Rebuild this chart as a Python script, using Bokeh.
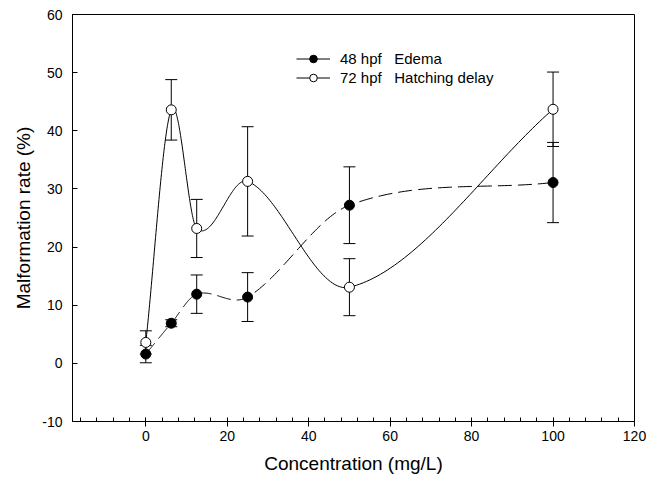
import numpy as np
from bokeh.plotting import figure
from bokeh.models import (ColumnDataSource, Whisker, TeeHead, SingleIntervalTicker,
                          Range1d, Legend, LegendItem)
from bokeh.embed import file_html
from bokeh.resources import INLINE

# ---- data ----
conc = [0, 6.25, 12.5, 25, 50, 100]
edema_48 = [1.6, 6.9, 11.9, 11.4, 27.2, 31.1]
edema_48_err = [1.5, 0.6, 3.3, 4.2, 6.6, 6.9]
hatch_72 = [3.6, 43.6, 23.2, 31.3, 13.1, 43.7]
hatch_72_err = [2.0, 5.2, 5.0, 9.4, 4.9, 6.4]

y_ticks = [-10, 0, 10, 20, 30, 40, 50, 60]
legend_labels = ["48 hpf\u00a0\u00a0\u00a0Edema", "72 hpf\u00a0\u00a0\u00a0Hatching delay"]

FONT = "Liberation Sans"


def smooth_curve(xs, ys, n=60):
    """Smooth display curve through the data points (cubic Hermite,
    finite-difference tangents, like a Catmull-Rom spline)."""
    xs = np.asarray(xs, float)
    ys = np.asarray(ys, float)
    k = len(xs)
    m = np.empty(k)
    m[0] = (ys[1] - ys[0]) / (xs[1] - xs[0])
    m[-1] = (ys[-1] - ys[-2]) / (xs[-1] - xs[-2])
    for i in range(1, k - 1):
        m[i] = (ys[i + 1] - ys[i - 1]) / (xs[i + 1] - xs[i - 1])
    out_x, out_y = [], []
    for i in range(k - 1):
        h = xs[i + 1] - xs[i]
        t = np.linspace(0, 1, n, endpoint=(i == k - 2))
        h00 = 2 * t**3 - 3 * t**2 + 1
        h10 = t**3 - 2 * t**2 + t
        h01 = -2 * t**3 + 3 * t**2
        h11 = t**3 - t**2
        out_x.append(xs[i] + t * h)
        out_y.append(h00 * ys[i] + h10 * h * m[i] + h01 * ys[i + 1] + h11 * h * m[i + 1])
    return np.concatenate(out_x), np.concatenate(out_y)


p = figure(width=648, height=480, output_backend="svg", toolbar_location=None,
           x_range=Range1d(-18, 120), y_range=Range1d(-10, 60),
           min_border_left=72, min_border_right=14, min_border_top=14,
           min_border_bottom=59)
p.grid.visible = False
p.outline_line_color = "black"
p.outline_line_width = 1
p.background_fill_color = "white"
p.border_fill_color = "white"

# x axis
p.xaxis.ticker = SingleIntervalTicker(interval=20, num_minor_ticks=5)
p.xaxis.major_tick_out = 5
p.xaxis.major_tick_in = 0
p.xaxis.minor_tick_in = 4
p.xaxis.minor_tick_out = 0
p.xaxis.major_label_standoff = 4
p.xaxis.axis_label = "Concentration (mg/L)"
p.xaxis.axis_label_standoff = 9

# y axis
p.yaxis.ticker = y_ticks
p.yaxis.major_label_overrides = {-10: "-10"}
p.yaxis.major_tick_in = 5
p.yaxis.major_tick_out = 0
p.yaxis.minor_tick_line_color = None
p.yaxis.major_label_standoff = 10
p.yaxis.axis_label = "Malformation rate (%)"
p.yaxis.axis_label_standoff = 5

for ax in (p.xaxis, p.yaxis):
    ax.axis_line_color = "black"
    ax.major_tick_line_color = "black"
    ax.major_label_text_font = FONT
    ax.major_label_text_font_size = "14px"
    ax.major_label_text_color = "black"
    ax.axis_label_text_font = FONT
    ax.axis_label_text_font_size = "19px"
    ax.axis_label_text_font_style = "normal"
    ax.axis_label_text_color = "black"
p.xaxis.minor_tick_line_color = "black"

# curves
ex, ey = smooth_curve(conc, edema_48)
hx, hy = smooth_curve(conc, hatch_72)
l1 = p.line(ex, ey, line_color="black", line_width=1, line_dash="14 6")
l2 = p.line(hx, hy, line_color="black", line_width=1)

# error bars
src_e = ColumnDataSource(dict(x=conc, y=edema_48,
                              lo=[v - e for v, e in zip(edema_48, edema_48_err)],
                              hi=[v + e for v, e in zip(edema_48, edema_48_err)]))
src_h = ColumnDataSource(dict(x=conc, y=hatch_72,
                              lo=[v - e for v, e in zip(hatch_72, hatch_72_err)],
                              hi=[v + e for v, e in zip(hatch_72, hatch_72_err)]))
for src in (src_e, src_h):
    w = Whisker(source=src, base="x", lower="lo", upper="hi",
                line_color="black", line_width=1,
                upper_head=TeeHead(size=12, line_color="black", line_width=1),
                lower_head=TeeHead(size=12, line_color="black", line_width=1))
    p.add_layout(w)

s1 = p.scatter("x", "y", source=src_e, size=10, marker="circle",
               fill_color="black", line_color="black")
s2 = p.scatter("x", "y", source=src_h, size=10, marker="circle",
               fill_color="white", line_color="black", line_width=1)

legend = Legend(items=[LegendItem(label=legend_labels[0], renderers=[l1, s1]),
                       LegendItem(label=legend_labels[1], renderers=[l2, s2])],
                location=(224, 334), padding=0, margin=0, spacing=0,
                glyph_width=34, glyph_height=19, label_height=19,
                label_standoff=10, border_line_color=None,
                background_fill_alpha=0,
                label_text_font=FONT, label_text_font_size="15px",
                label_text_color="black")
p.add_layout(legend, "center")

open("out.html", "w").write(file_html(p, INLINE))
